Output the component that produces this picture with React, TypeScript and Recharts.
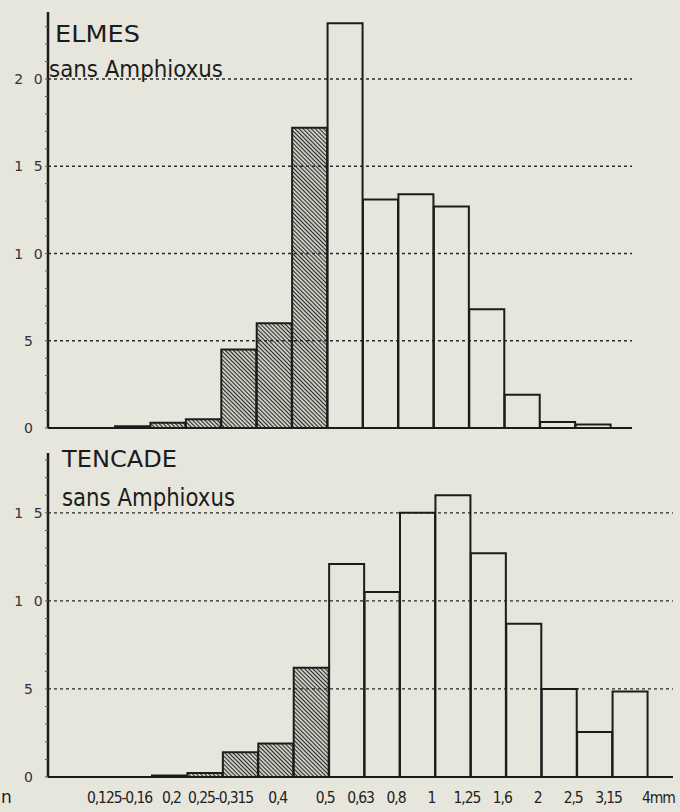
import { BarChart, Bar, XAxis, YAxis, CartesianGrid, Cell } from 'recharts';

// Grain size classes (mm), lower / upper edge of each bin
const binLower = [0.125, 0.16, 0.2, 0.25, 0.315, 0.4, 0.5, 0.63, 0.8, 1, 1.25, 1.6, 2, 2.5, 3.15];
const binUpper = [0.16, 0.2, 0.25, 0.315, 0.4, 0.5, 0.63, 0.8, 1, 1.25, 1.6, 2, 2.5, 3.15, 4];

// % per class, ELMES covers 0,125 -> 3,15 ; TENCADE covers 0,16 -> 4
const elmesValues = [0.1, 0.3, 0.5, 4.5, 6.0, 17.2, 23.2, 13.1, 13.4, 12.7, 6.8, 1.9, 0.35, 0.2];
const tencadeValues = [0.08, 0.23, 1.4, 1.9, 6.2, 12.1, 10.5, 15.0, 16.0, 12.7, 8.7, 5.0, 2.55, 4.85];

// labels written under the left edge of each TENCADE bin, plus the closing one
const xEdgeLabels = ['0,125-0,16', '0,2', '0,25-0,315', '', '0,4', '0,5', '0,63', '0,8', '1', '1,25', '1,6', '2', '2,5', '3,15'];
const xEndLabel = '4mm';

const gridValues = [5, 10, 15, 20];
const majorTicks = [0, 5, 10, 15, 20];

const BG = '#e6e6dc';
const INK = '#1c1c1c';
const HATCH_LIMIT = 0.5; // classes finer than 0,5 mm are hatched

const binName = (i: number) => `${binLower[i]}-${binUpper[i]}`;

const elmesData = elmesValues.map((v, i) => ({ bin: binName(i), upper: binUpper[i], value: v }));
const tencadeData = tencadeValues.map((v, i) => ({ bin: binName(i + 1), upper: binUpper[i + 1], value: v }));

function YTick(props: any) {
  const { x, y, payload } = props;
  const v = payload.value as number;
  if (!majorTicks.includes(v)) return null;
  return (
    <text
      x={x - 13}
      y={y}
      dy="0.36em"
      textAnchor="middle"
      fontFamily="'DejaVu Sans', sans-serif"
      fontSize={14}
      letterSpacing={3}
      fill="#333"
    >
      {String(v).split('').join(' ')}
    </text>
  );
}

function XEdgeTick(props: any) {
  const { x, y, payload, index } = props;
  const half = payload.offset ?? 17.7;
  const left = x - half;
  const label = xEdgeLabels[index] ?? '';
  const hatched = tencadeData[index]?.upper <= HATCH_LIMIT;
  const style = {
    fontFamily: "'Liberation Sans Narrow', 'DejaVu Sans Condensed', sans-serif",
    fontSize: 15.5,
    letterSpacing: -1.1,
    fill: '#222',
  };
  const ty = y + 26;
  let node = null;
  if (label) {
    if (index === 0) {
      node = <text x={left} y={ty} textAnchor="end" {...style}>{label}</text>;
    } else if (label.includes('-')) {
      node = <text x={x - 20} y={ty} textAnchor="middle" {...style}>{label}</text>;
    } else {
      node = <text x={left - (hatched ? 16 : 4)} y={ty} textAnchor="middle" {...style}>{label}</text>;
    }
  }
  const isLast = index === xEdgeLabels.length - 1;
  return (
    <g>
      {node}
      {isLast && (
        <text x={x + half - 6} y={ty} textAnchor="start" {...style}>{xEndLabel}</text>
      )}
    </g>
  );
}

function Histogram({ data, height, margin, yMax, yTicks, padding, showX }: any) {
  return (
    <BarChart
      width={680}
      height={height}
      data={data}
      margin={margin}
      barCategoryGap={0}
      barGap={0}
    >
      <CartesianGrid
        vertical={false}
        horizontalValues={gridValues}
        stroke="#2a2a2a"
        strokeWidth={1.3}
        strokeDasharray="3 3"
      />
      <XAxis
        dataKey="bin"
        type="category"
        interval={0}
        padding={padding}
        height={showX ? 30 : 1}
        axisLine={{ stroke: INK, strokeWidth: 2 }}
        tickLine={false}
        tickSize={0}
        tickMargin={0}
        tick={showX ? <XEdgeTick /> : false}
      />
      <YAxis
        type="number"
        domain={[0, yMax]}
        ticks={yTicks}
        interval={0}
        width={48}
        allowDataOverflow
        axisLine={{ stroke: INK, strokeWidth: 2.5 }}
        tickLine={{ stroke: '#555', strokeWidth: 1 }}
        tickSize={3}
        tick={<YTick />}
      />
      <Bar dataKey="value" isAnimationActive={false} stroke={INK} strokeWidth={2}>
        {data.map((d: any) => (
          <Cell key={d.bin} fill={d.upper <= HATCH_LIMIT ? 'url(#hatch)' : 'none'} />
        ))}
      </Bar>
    </BarChart>
  );
}

const titleFont = "'DejaVu Sans', sans-serif";

export default function App() {
  const topTicks = Array.from({ length: 24 }, (_, i) => i);
  const bottomTicks = Array.from({ length: 19 }, (_, i) => i);
  return (
    <div style={{ position: 'absolute', left: 0, top: 0, width: 680, height: 812, background: BG, overflow: 'hidden' }}>
      <svg width={0} height={0} style={{ position: 'absolute' }}>
        <defs>
          <pattern id="hatch" width={2.9} height={2.9} patternUnits="userSpaceOnUse" patternTransform="rotate(-45)">
            <line x1={1.45} y1={0} x2={1.45} y2={2.9} stroke="#262626" strokeWidth={1.25} />
          </pattern>
        </defs>
      </svg>

      <div style={{ position: 'absolute', left: 0, top: 0 }}>
        <Histogram
          data={elmesData}
          height={440}
          margin={{ top: 12, right: 48, bottom: 11, left: 0 }}
          yMax={23.84}
          yTicks={topTicks}
          padding={{ left: 67, right: 21 }}
          showX={false}
        />
      </div>

      <div style={{ position: 'absolute', left: 0, top: 440 }}>
        <Histogram
          data={tencadeData}
          height={372}
          margin={{ top: 13, right: 7, bottom: 5, left: 0 }}
          yMax={18.4}
          yTicks={bottomTicks}
          padding={{ left: 104, right: 25 }}
          showX
        />
      </div>

      <svg width={680} height={812} style={{ position: 'absolute', left: 0, top: 0, pointerEvents: 'none' }}>
        <g fontFamily={titleFont} fill={INK}>
          <text x={55} y={42} fontSize={23} textLength={85} lengthAdjust="spacingAndGlyphs">ELMES</text>
          <text x={49} y={77} fontSize={23} textLength={174} lengthAdjust="spacingAndGlyphs">sans Amphioxus</text>
          <text x={62} y={467} fontSize={23} textLength={115} lengthAdjust="spacingAndGlyphs">TENCADE</text>
          <text x={62} y={506} fontSize={24} textLength={173} lengthAdjust="spacingAndGlyphs">sans Amphioxus</text>
          <text x={1} y={803} fontSize={17} fill="#222">n</text>
        </g>
      </svg>
    </div>
  );
}
